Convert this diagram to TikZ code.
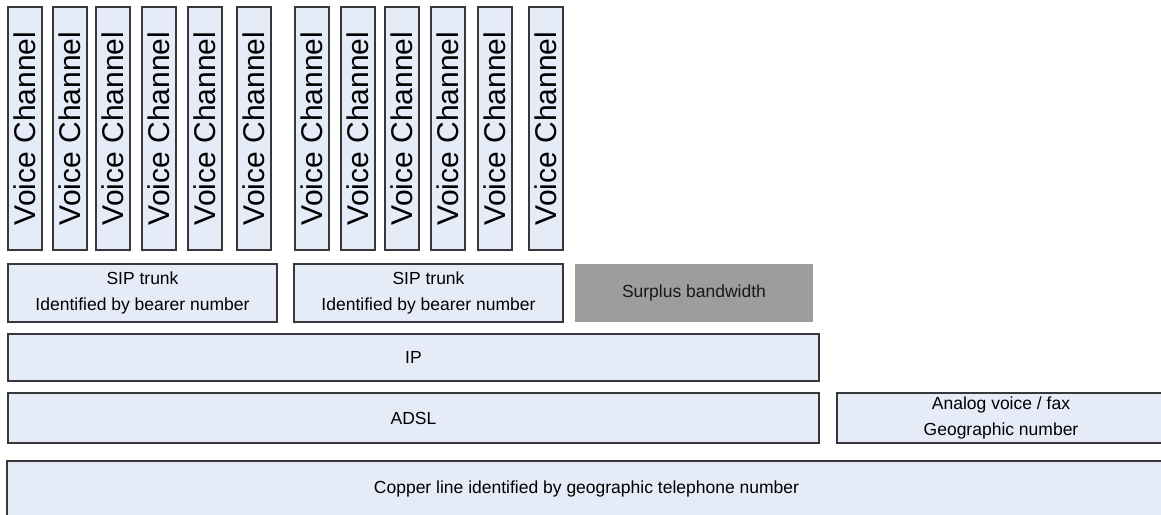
\documentclass[tikz,border=0pt]{standalone}
\usepackage{fontspec}
\setmainfont{Liberation Sans}
\definecolor{boxfill}{RGB}{230,236,247}
\definecolor{boxline}{RGB}{55,55,60}
\definecolor{surplus}{RGB}{157,157,157}
\begin{document}
\begin{tikzpicture}[x=1pt,y=-1pt,
  layer/.style={draw=boxline, line width=1.1pt, fill=boxfill, inner sep=0pt, outer sep=0pt,
    align=center, font=\fontsize{17.5}{26}\selectfont},
  vc/.style={layer, rotate=90, minimum width=243pt, minimum height=34pt,
    font=\fontsize{30}{30}\selectfont},
  grey/.style={fill=surplus, draw=none, inner sep=0pt, align=center,
    text=black!90, font=\fontsize{17.5}{26}\selectfont}]
\useasboundingbox (0,0) rectangle (1161,514);
\clip (0,0) rectangle (1161,514);
\foreach \x [count=\i] in {8,53,96,142,188,237,295,341,385,431,478,529}
  \node[vc] (vc\i) at (\x+17,128.5) {\raisebox{0pt}{Voice Channel}};
\node[layer, minimum width=269pt, minimum height=58pt] (sip1) at (142.5,293)
  {SIP trunk\\Identified by bearer number};
\node[layer, minimum width=269pt, minimum height=58pt] (sip2) at (428.5,293)
  {SIP trunk\\Identified by bearer number};
\node[grey, minimum width=238pt, minimum height=58pt] (surplus) at (694,293) {Surplus bandwidth};
\node[layer, minimum width=811pt, minimum height=47pt] (ip) at (413.5,357.5) {IP};
\node[layer, minimum width=811pt, minimum height=50pt] (adsl) at (413.5,418) {ADSL};
\node[layer, minimum width=328pt, minimum height=50pt] (analog) at (1001,418)
  {Analog voice / fax\\Geographic number};
\node[layer, minimum width=1159pt, minimum height=56pt] (copper) at (586.5,489)
  {Copper line identified by geographic telephone number};
\end{tikzpicture}
\end{document}
